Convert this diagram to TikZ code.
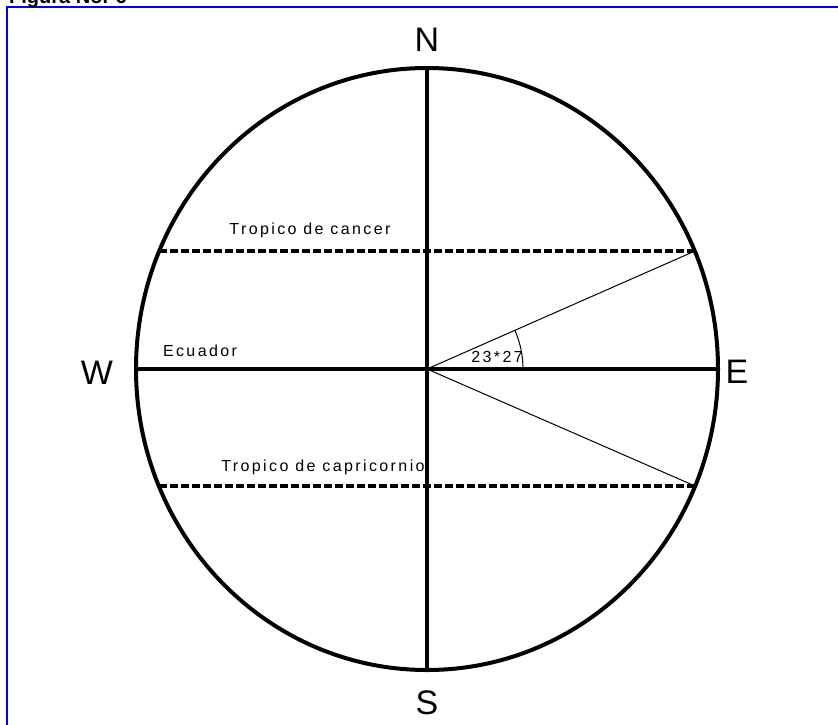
\documentclass[tikz,border=0pt]{standalone}
\usepackage{fontspec}
\setmainfont{Liberation Sans}
\newfontfamily\spacedfont[LetterSpace=15]{Liberation Sans}

\begin{document}
\begin{tikzpicture}[x=1pt, y=-1pt,
    thickline/.style={line width=4pt},
    tropic/.style={line width=4pt, dash pattern=on 8pt off 3pt},
    thinline/.style={line width=1pt},
    compass/.style={font=\fontsize{34}{34}\selectfont},
    lbl/.style={font=\spacedfont\fontsize{16}{16}\selectfont, inner sep=0pt}]
  \useasboundingbox (0,0) rectangle (838,724);
  \draw[blue, line width=2pt] (7,7) rectangle (850,740);
  \node[anchor=base west, inner sep=0pt, font=\bfseries\fontsize{20}{20}\selectfont] (title) at (9,3) {Figura No. 6};

  % globe
  \coordinate (O) at (427,369);
  \draw[thickline] (O) ellipse [x radius=291pt, y radius=301pt];

  \coordinate (top) at (427,68);
  \coordinate (bottom) at (427,670);
  \coordinate (west) at (136,369);
  \coordinate (east) at (718,369);
  \coordinate (cancerW) at (159,251);
  \coordinate (cancerE) at (695,251);
  \coordinate (capriW) at (159,486);
  \coordinate (capriE) at (695,486);

  \draw[thickline] (top) -- (bottom);
  \draw[thickline] (west) -- (east);
  \draw[tropic] (cancerW) -- (cancerE);
  \draw[tropic] (capriW) -- (capriE);

  \draw[thinline] (O) -- (cancerE);
  \draw[thinline] (O) -- (capriE);
  \draw[thinline] ([xshift=96pt]O) arc [start angle=0, end angle=24, radius=96pt];

  % labels
  \node[compass] (N) at (427,40) {N};
  \node[compass] (S) at (427,703) {S};
  \node[compass] (W) at (97,373) {W};
  \node[compass] (E) at (737,372) {E};

  \node[lbl] (cancer) at (310,230) {Tropico de cancer};
  \node[lbl] (ecuador) at (200,351) {Ecuador};
  \node[lbl] (capri) at (323,467) {Tropico de capricornio};
  \node[lbl] (angle) at (497,357) {23*27};
\end{tikzpicture}
\end{document}
